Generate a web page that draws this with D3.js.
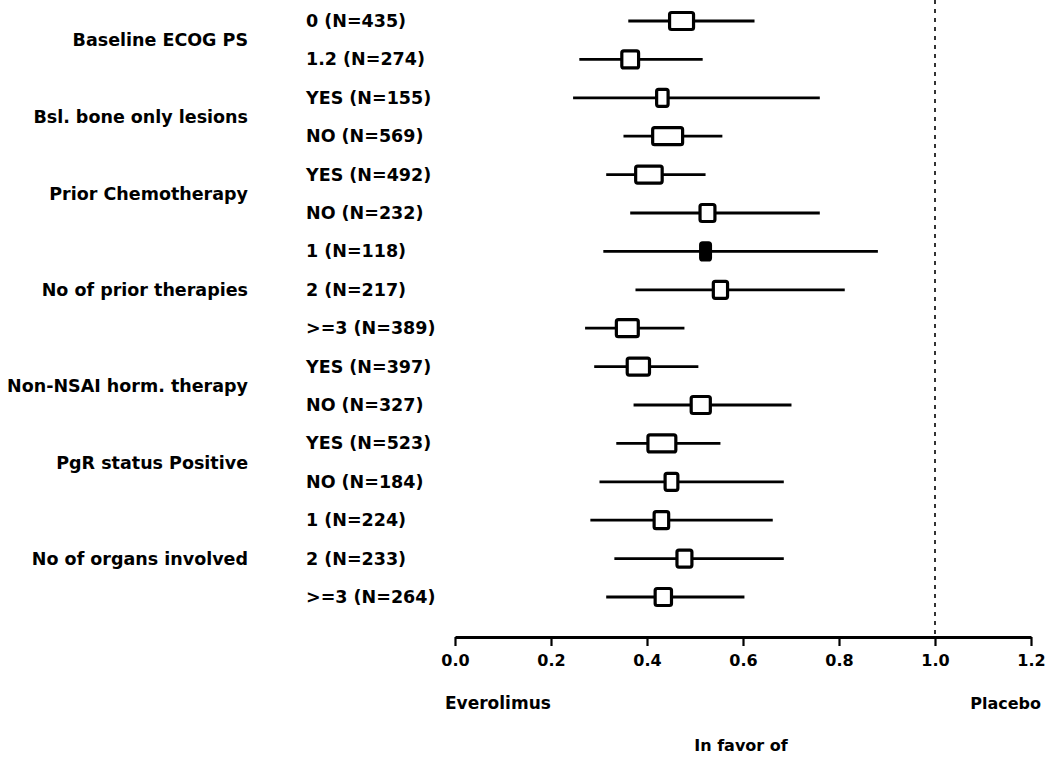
<!DOCTYPE html>
<html><head><meta charset="utf-8">
<script src="https://cdn.jsdelivr.net/npm/d3@7"></script>
<style>
html,body{margin:0;padding:0;background:#fff;}
svg text{font-family:"DejaVu Sans",Verdana,sans-serif;fill:#000;}
</style></head>
<body><svg id="c" width="1047" height="759"></svg>
<script>
const groups = ["Baseline ECOG PS","Bsl. bone only lesions","Prior Chemotherapy","No of prior therapies","Non-NSAI horm. therapy","PgR status Positive","No of organs involved"];
const subgroups = ["0 (N=435)","1.2 (N=274)","YES (N=155)","NO (N=569)","YES (N=492)","NO (N=232)","1 (N=118)","2 (N=217)",">=3 (N=389)","YES (N=397)","NO (N=327)","YES (N=523)","NO (N=184)","1 (N=224)","2 (N=233)",">=3 (N=264)"];
const groupOf = [0,0,1,1,2,2,3,3,3,4,4,5,5,6,6,6];
const nValues = [435,274,155,569,492,232,118,217,389,397,327,523,184,224,233,264];
const hr    = [0.472,0.365,0.432,0.443,0.404,0.526,0.522,0.553,0.359,0.382,0.512,0.431,0.451,0.430,0.478,0.434];
const lower = [0.361,0.259,0.246,0.351,0.315,0.365,0.309,0.376,0.271,0.290,0.372,0.336,0.301,0.282,0.332,0.315];
const upper = [0.624,0.516,0.760,0.557,0.522,0.760,0.881,0.812,0.478,0.507,0.701,0.553,0.685,0.662,0.685,0.603];
const xTicks = [0,0.2,0.4,0.6,0.8,1.0,1.2];
const refValue = 1.0;

const svg = d3.select("#c");
const x = d3.scaleLinear().domain([0,1.2]).range([455,1031]);
const y = d3.scalePoint().domain(d3.range(subgroups.length)).range([21,597]);
const w = d3.scaleLinear().domain([100,570]).range([9,30]);

// reference line
svg.append("line").attr("x1",x(refValue)).attr("x2",x(refValue)).attr("y1",0).attr("y2",637)
  .attr("stroke","#000").attr("stroke-width",1.6).attr("stroke-dasharray","4,5");

// group labels
groups.forEach((g,i)=>{
  const rows = d3.range(subgroups.length).filter(r=>groupOf[r]===i);
  const cy = d3.mean(rows, r=>y(r));
  svg.append("text").attr("x",248).attr("y",cy).attr("text-anchor","end")
    .attr("dominant-baseline","central").style("font-size","17.5px").style("font-weight","bold").text(g);
});

// subgroup labels
subgroups.forEach((s,i)=>{
  svg.append("text").attr("x",306).attr("y",y(i)).attr("dominant-baseline","central")
    .style("font-size","17.5px").style("font-weight","bold").text(s);
});

const rows = svg.append("g").selectAll("g").data(d3.range(subgroups.length)).join("g");
rows.append("line").attr("x1",i=>x(lower[i])).attr("x2",i=>x(upper[i]))
  .attr("y1",i=>y(i)).attr("y2",i=>y(i)).attr("stroke","#000").attr("stroke-width",2.8);
rows.append("rect")
  .attr("x",i=>x(hr[i])-w(nValues[i])/2).attr("y",i=>y(i)-8.5)
  .attr("width",i=>w(nValues[i])).attr("height",17).attr("rx",2)
  .attr("fill",i=>nValues[i]<130?"#000":"#fff").attr("stroke","#000").attr("stroke-width",3.2);

// x axis
const axis = svg.append("g").attr("transform","translate(0,637)")
  .call(d3.axisBottom(x).tickValues(xTicks).tickFormat(d3.format(".1f")).tickSize(9).tickSizeOuter(0));
axis.select(".domain").attr("stroke-width",2.8);
axis.selectAll(".tick line").attr("stroke-width",2.2);
axis.selectAll(".tick text").style("font-size","16px").style("font-weight","bold")
  .style("font-family","'DejaVu Sans',Verdana,sans-serif").attr("y",18);

svg.append("text").attr("x",445).attr("y",703).attr("dominant-baseline","central").style("font-size","17px").style("font-weight","bold").text("Everolimus");
svg.append("text").attr("x",1041).attr("y",703).attr("text-anchor","end").attr("dominant-baseline","central").style("font-size","16px").style("font-weight","bold").text("Placebo");
svg.append("text").attr("x",741).attr("y",745).attr("text-anchor","middle").attr("dominant-baseline","central").style("font-size","16px").style("font-weight","bold").text("In favor of");
</script></body></html>
